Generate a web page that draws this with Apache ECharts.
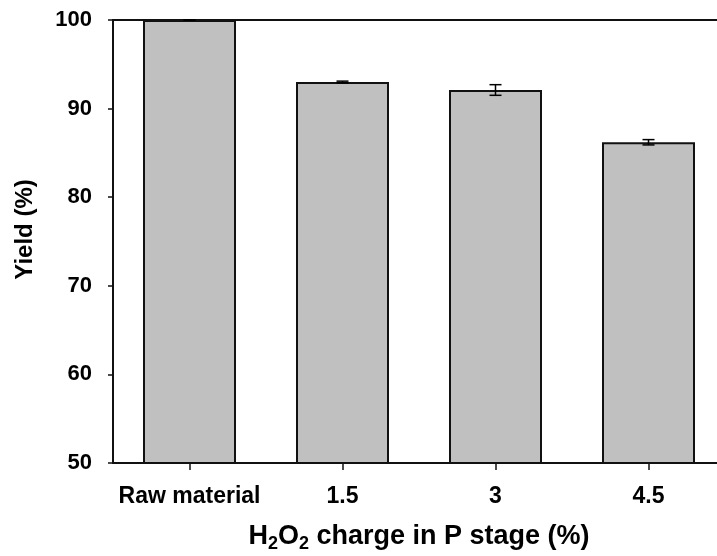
<!DOCTYPE html>
<html>
<head>
<meta charset="utf-8">
<script src="https://cdn.jsdelivr.net/npm/echarts@6/dist/echarts.min.js"></script>
<style>html,body{margin:0;padding:0;background:#fff}#c{width:717px;height:556px}</style>
</head>
<body>
<div id="c"></div>
<script>
const categories = ['Raw material', '1.5', '3', '4.5'];
const yieldValues = [100, 93.0, 92.1, 86.2];
const yieldErrors = [0, 0.1, 0.6, 0.3];
const yTicks = [50, 60, 70, 80, 90, 100];

const chart = echarts.init(document.getElementById('c'));
const FONT = '"Liberation Sans", Arial, sans-serif';
const errData = categories.map((c, i) => [i, yieldValues[i] - yieldErrors[i], yieldValues[i] + yieldErrors[i]]);

chart.setOption({
  animation: false,
  backgroundColor: '#fff',
  grid: { left: 113, top: 20, width: 612, bottom: 93, containLabel: false, outerBoundsMode: 'none' },
  xAxis: [{
    type: 'category',
    data: categories,
    position: 'bottom',
    axisLine: { lineStyle: { color: '#111', width: 2 } },
    axisTick: { show: true, alignWithLabel: true, interval: 0, length: 7, lineStyle: { color: '#111', width: 1.5 } },
    axisLabel: { color: '#000', fontFamily: FONT, fontWeight: 'bold', fontSize: 23, margin: 22, interval: 0, hideOverlap: false },
    name: '{a|H}{s|2}{a|O}{s|2}{a| charge in P stage (%)}',
    nameLocation: 'middle',
    nameGap: 58,
    nameTextStyle: {
      rich: {
        a: { fontFamily: FONT, fontWeight: 'bold', fontSize: 27, color: '#000' },
        s: { fontFamily: FONT, fontWeight: 'bold', fontSize: 18, color: '#000', verticalAlign: 'bottom', padding: [14, 0, 0, 0] }
      }
    }
  }, {
    type: 'category',
    data: categories,
    position: 'top',
    axisLine: { show: true, lineStyle: { color: '#111', width: 2 } },
    axisTick: { show: false },
    axisLabel: { show: false }
  }],
  yAxis: {
    type: 'value',
    min: yTicks[0],
    max: yTicks[yTicks.length - 1],
    interval: 10,
    splitLine: { show: false },
    axisLine: { show: true, lineStyle: { color: '#111', width: 2 } },
    axisTick: { show: true, length: 5, lineStyle: { color: '#111', width: 1.5 } },
    axisLabel: { color: '#000', fontFamily: FONT, fontWeight: 'bold', fontSize: 22, margin: 21 },
    name: 'Yield (%)',
    nameLocation: 'middle',
    nameGap: 76,
    nameRotate: 90,
    nameTextStyle: { color: '#000', fontFamily: FONT, fontWeight: 'bold', fontSize: 24, padding: [0, 0, 0, 24] }
  },
  series: [{
    type: 'bar',
    data: yieldValues,
    barWidth: 93,
    itemStyle: { color: '#c0c0c0', borderColor: '#111', borderWidth: 2 }
  }, {
    type: 'custom',
    data: errData,
    z: 5,
    renderItem: function (params, api) {
      const x = api.value(0);
      const lo = api.coord([x, api.value(1)]);
      const hi = api.coord([x, api.value(2)]);
      const hw = 6;
      const st = { stroke: '#000', lineWidth: 1.5 };
      return {
        type: 'group',
        children: [
          { type: 'line', shape: { x1: lo[0], y1: lo[1], x2: hi[0], y2: hi[1] }, style: st },
          { type: 'line', shape: { x1: lo[0] - hw, y1: lo[1], x2: lo[0] + hw, y2: lo[1] }, style: st },
          { type: 'line', shape: { x1: hi[0] - hw, y1: hi[1], x2: hi[0] + hw, y2: hi[1] }, style: st }
        ]
      };
    }
  }]
});
</script>
</body>
</html>
